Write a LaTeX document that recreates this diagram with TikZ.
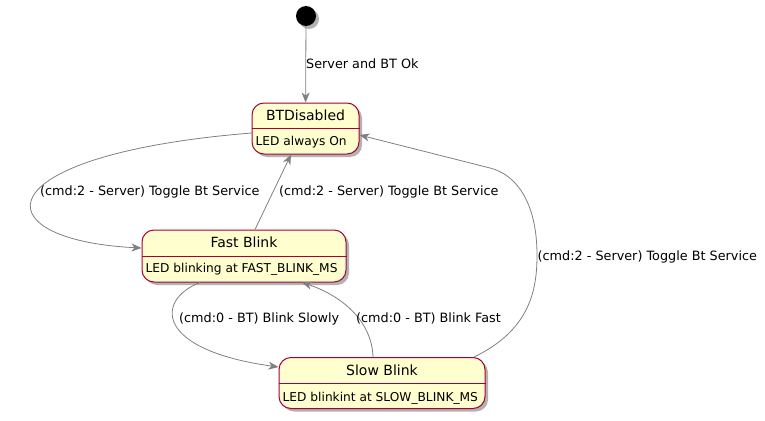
\documentclass[tikz,border=0pt]{standalone}
\usepackage{fontspec}
\setmainfont{DejaVu Sans}
\usepackage{tikz}
\usetikzlibrary{calc}
\usetikzlibrary{arrows.meta}
\usetikzlibrary{shadows}
\usetikzlibrary{positioning}
\definecolor{stateborder}{HTML}{A80036}
\definecolor{statefill}{HTML}{FEFECE}
\definecolor{transgray}{HTML}{808080}
\tikzset{>={Stealth[length=10pt, width=8pt, inset=3pt]}}
\tikzstyle{stshadow} = [drop shadow = {shadow xshift = 3pt, shadow yshift = -3pt, opacity = .3, fill = black}]
\tikzstyle{state} = [rectangle, rounded corners = 12pt, draw = stateborder, fill = statefill, line width = 1pt, minimum height = 51pt, inner sep = 0pt, stshadow]
\tikzstyle{sttitle} = [font = \fontsize{14}{16}\selectfont, inner sep = 0pt, anchor = base]
\tikzstyle{stbody} = [font = \fontsize{12.2}{14}\selectfont, inner sep = 0pt, anchor = base west]
\tikzstyle{trans} = [->, draw = transgray, line width = .8pt]
\tikzstyle{lbl} = [font = \fontsize{12.8}{14}\selectfont, inner sep = 0pt, anchor = base west]

\begin{document}
\begin{tikzpicture}[x = 1pt, y = -1pt]
\useasboundingbox (0, 0) rectangle (765, 420);
% states
\node [circle, fill = black, minimum size = 20pt, inner sep = 0pt, stshadow] (init) at (306, 16) {};
\node [state, minimum width = 107pt] (btdis) at (305.5, 128.5) {};
\node [state, minimum width = 204pt, minimum height = 52pt] (fastb) at (244, 256) {};
\node [state, minimum width = 206pt] (slowb) at (382, 383) {};
\draw [stateborder, line width = 1pt] (btdis.west) -- (btdis.east);
\draw [stateborder, line width = 1pt] (fastb.west) -- (fastb.east);
\draw [stateborder, line width = 1pt] (slowb.west) -- (slowb.east);
\node [sttitle] (btdistitle) at ([yshift = -18pt]btdis.north) {BTDisabled};
\node [stbody] (btdisbody) at ([xshift = 4pt, yshift = 9pt]btdis.south west) {LED always On};
\node [sttitle] (fastbtitle) at ([yshift = -18pt]fastb.north) {Fast Blink};
\node [stbody] (fastbbody) at ([xshift = 4pt, yshift = 10pt]fastb.south west) {LED blinking at FAST\_BLINK\_MS};
\node [sttitle] (slowbtitle) at ([yshift = -18pt]slowb.north) {Slow Blink};
\node [stbody] (slowbbody) at ([xshift = 4pt, yshift = 8pt]slowb.south west) {LED blinkint at SLOW\_BLINK\_MS};
% transitions
\draw [trans] (init) -- (btdis);
\draw [trans] ([yshift = -4.5pt]btdis.west) .. controls (-20, 155) and (-20, 240) .. ([yshift = 8pt]fastb.west);
\draw [trans] ([xshift = 11pt]fastb.north) -- ([xshift = -14.5pt]btdis.south);
\draw [trans] ([xshift = -44pt]fastb.south) .. controls (155, 300) and (155, 350) .. ([yshift = 16pt]slowb.west);
\draw [trans] ([xshift = -9pt]slowb.north) .. controls (372, 320) and (340, 295) .. ([xshift = 58pt]fastb.south);
\draw [trans] ([xshift = 92pt]slowb.north) .. controls (530, 330) and (537, 290) .. (537, 255) .. controls (537, 205) and (518, 175) .. (490, 168) -- ([yshift = -6.5pt]btdis.east);
% labels
\node [lbl] (lblok) at (306, 68.5) {Server and BT Ok};
\node [lbl] (lbltogglea) at (40, 195) {(cmd:2 - Server) Toggle Bt Service};
\node [lbl] (lbltoggleb) at (279, 195) {(cmd:2 - Server) Toggle Bt Service};
\node [lbl] (lbltogglec) at (537.5, 260) {(cmd:2 - Server) Toggle Bt Service};
\node [lbl] (lblslow) at (179, 322) {(cmd:0 - BT) Blink Slowly};
\node [lbl] (lblfast) at (356, 322) {(cmd:0 - BT) Blink Fast};
\end{tikzpicture}
\end{document}
